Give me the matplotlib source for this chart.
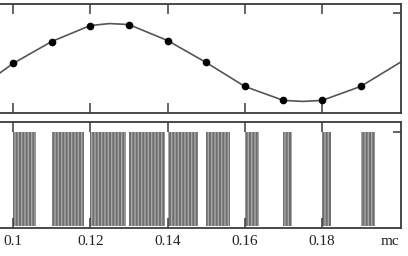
import numpy as np
import matplotlib.pyplot as plt

# sampled sine (top panel), time in ms
t_pts = [0.10, 0.11, 0.12, 0.13, 0.14, 0.15, 0.16, 0.17, 0.18, 0.19]
u_pts = [-0.02, 0.42, 0.74, 0.76, 0.44, 0.0, -0.48, -0.76, -0.76, -0.48]
# curve incl. the ends that run off the frame
t_line = [0.0966, 0.10, 0.11, 0.12, 0.125, 0.13, 0.14, 0.15, 0.16, 0.17, 0.175, 0.18, 0.19, 0.2004]
u_line = [-0.21, -0.02, 0.42, 0.74, 0.78, 0.76, 0.44, 0.0, -0.48, -0.76, -0.78, -0.76, -0.48, 0.01]

# pulse train (bottom panel)
p_start = [0.10, 0.11, 0.12, 0.13, 0.14, 0.15, 0.16, 0.17, 0.18, 0.19]
p_width = [0.0060, 0.0083, 0.0093, 0.0093, 0.0078, 0.0062, 0.0036, 0.0021, 0.0023, 0.0036]
p_height = [1, 1, 1, 1, 1, 1, 1, 1, 1, 1]

xticks = [0.10, 0.12, 0.14, 0.16, 0.18]
xlabels = ['0.1', '0.12', '0.14', '0.16', '0.18']

plt.rcParams['font.family'] = 'Liberation Serif'
plt.rcParams['hatch.linewidth'] = 1.0

fig = plt.figure(figsize=(4.08, 2.56), dpi=100)
ax1 = fig.add_axes([0.0, 0.559, 0.983, 0.425])
ax2 = fig.add_axes([0.0, 0.109, 0.983, 0.414])

frame = '#3a3a3a'
for ax in (ax1, ax2):
    ax.set_xlim(0.09663, 0.20045)
    ax.spines['left'].set_visible(False)
    for s in ('top', 'bottom', 'right'):
        ax.spines[s].set_color(frame)
        ax.spines[s].set_linewidth(1.3)
    ax.set_xticks(xticks)
    ax.tick_params(axis='x', direction='in', top=True, bottom=True, length=7.5,
                   width=1.1, color=frame)
    ax.tick_params(axis='y', direction='in', left=False, right=True, labelleft=False,
                   labelright=False, length=6, width=1.1, color=frame)
    ax.set_yticks([1])

ax1.set_ylim(-1.01, 1.17)
ax1.plot(t_line, u_line, color='#555555', lw=1.2)
ax1.plot(t_pts, u_pts, 'o', color='black', ms=4.5)
ax1.tick_params(axis='x', labelbottom=False)

ax2.set_ylim(-0.021, 1.106)
ax2.bar(p_start, p_height, width=p_width, align='edge', color='#6e6e6e',
        edgecolor='#a8a8a8', linewidth=0, hatch='|||||')
ax2.set_xticklabels(xlabels, fontsize=11)
ax2.tick_params(axis='x', pad=5, labelcolor='#222222')
ax2.text(0.972, -0.065, 'mc', transform=ax2.transAxes, ha='center', va='top',
         fontsize=11, color='#222222')

fig.savefig('out.png', dpi=100)
